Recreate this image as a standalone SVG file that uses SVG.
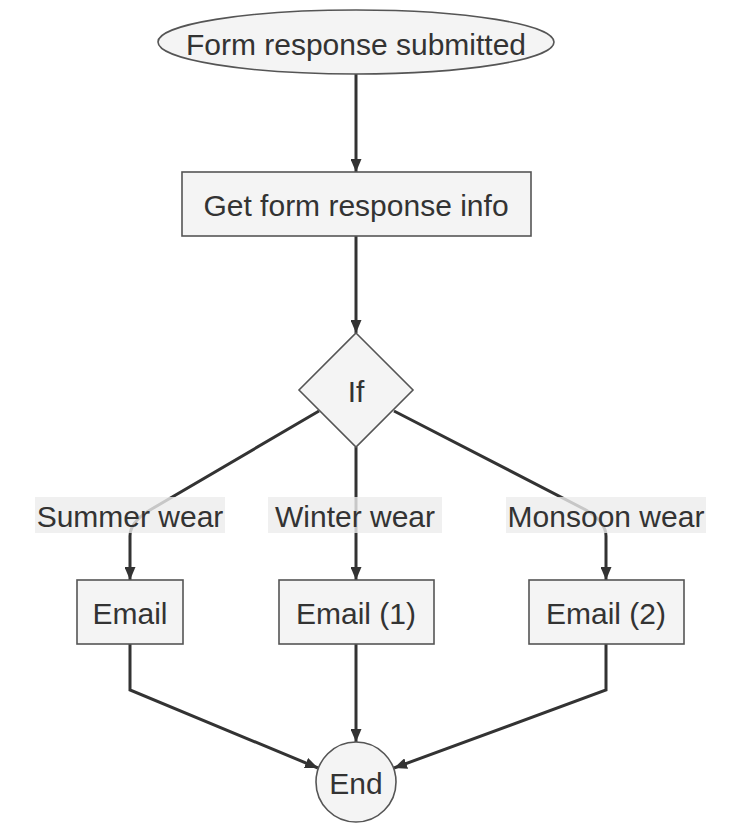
<svg xmlns="http://www.w3.org/2000/svg" width="736" height="832" viewBox="0 0 736 832">
<style>
.node{fill:#f4f4f4;stroke:#555;stroke-width:1.6}
.t{font-family:"Liberation Sans",Arial,sans-serif;font-size:30px;fill:#333;text-anchor:middle;dominant-baseline:central}
.e{fill:none;stroke:#333;stroke-width:3}
.lb{fill:#ececec;fill-opacity:0.8}
</style>
<defs>
<marker id="ah" viewBox="0 0 13 11" refX="13" refY="5.5" markerWidth="13" markerHeight="11" markerUnits="userSpaceOnUse" orient="auto">
<path d="M0,0 L13,5.5 L0,11 z" fill="#333"/>
</marker>
</defs>
<rect width="736" height="832" fill="#fff"/>
<g id="edges">
<path class="e" d="M356,74 L356,172" marker-end="url(#ah)"/>
<path class="e" d="M356,236 L356,333" marker-end="url(#ah)"/>
<path class="e" d="M319,411 L150,510 Q130,522 130,536 L130,580" marker-end="url(#ah)"/>
<path class="e" d="M356,447 L356,580" marker-end="url(#ah)"/>
<path class="e" d="M394,411 L586,510 Q606,522 606,536 L606,580" marker-end="url(#ah)"/>
<path class="e" d="M130,644 L130,690 L318,768" marker-end="url(#ah)"/>
<path class="e" d="M356,644 L356,742" marker-end="url(#ah)"/>
<path class="e" d="M606,644 L606,690 L394,768" marker-end="url(#ah)"/>
</g>
<g id="labels">
<g id="lbl-summer"><rect class="lb" x="35" y="497" width="190" height="36"/><text class="t" x="130" y="516">Summer wear</text></g>
<g id="lbl-winter"><rect class="lb" x="268" y="497" width="174" height="36"/><text class="t" x="355" y="516">Winter wear</text></g>
<g id="lbl-monsoon"><rect class="lb" x="506" y="497" width="200" height="36"/><text class="t" x="606" y="516">Monsoon wear</text></g>
</g>
<g id="start"><ellipse class="node" cx="356" cy="42" rx="198" ry="32"/><text class="t" x="356" y="44">Form response submitted</text></g>
<g id="getinfo"><rect class="node" x="182" y="172" width="349" height="64"/><text class="t" x="356" y="205">Get form response info</text></g>
<g id="if"><polygon class="node" points="356,333 413,390 356,447 299,390"/><text class="t" x="356" y="391">If</text></g>
<g id="email"><rect class="node" x="77" y="580" width="106" height="64"/><text class="t" x="130" y="613">Email</text></g>
<g id="email1"><rect class="node" x="279" y="580" width="155" height="64"/><text class="t" x="356" y="613">Email (1)</text></g>
<g id="email2"><rect class="node" x="529" y="580" width="155" height="64"/><text class="t" x="606" y="613">Email (2)</text></g>
<g id="end"><circle class="node" cx="356" cy="782" r="40"/><text class="t" x="356" y="783">End</text></g>
</svg>
